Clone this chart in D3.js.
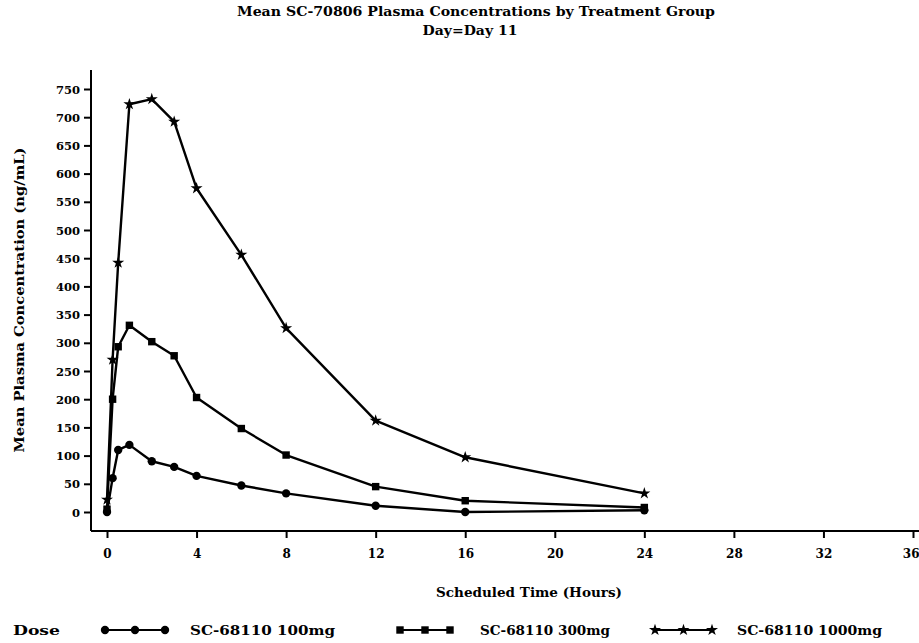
<!DOCTYPE html>
<html>
<head>
<meta charset="utf-8">
<script src="https://cdn.jsdelivr.net/npm/d3@7"></script>
<style>
  html, body { margin: 0; padding: 0; background: #fff; }
  svg { display: block; }
  text { font-family: "DejaVu Serif", "Liberation Serif", serif; font-weight: bold; fill: #000; }
</style>
</head>
<body>
<svg id="chart" width="919" height="643"></svg>
<script>
// Scheduled sampling times (hours)
const times = [0, 0.25, 0.5, 1, 2, 3, 4, 6, 8, 12, 16, 24];
// Mean plasma concentrations (ng/mL) per dose group
const dose100 = [0, 60, 110, 119, 90, 80, 64, 47, 33, 11, 0, 3];
const dose300 = [5, 200, 293, 331, 302, 277, 203, 148, 101, 45, 20, 8];
const dose1000 = [22, 270, 442, 723, 732, 692, 574, 456, 326, 162, 97, 33];
// Axis ticks and labels
const xTicks = [0, 4, 8, 12, 16, 20, 24, 28, 32, 36];
const yTicks = [0, 50, 100, 150, 200, 250, 300, 350, 400, 450, 500, 550, 600, 650, 700, 750];
const seriesNames = ["SC-68110 100mg", "SC-68110 300mg", "SC-68110 1000mg"];
const titleLines = ["Mean SC-70806 Plasma Concentrations by Treatment Group", "Day=Day 11"];

const svg = d3.select("#chart");

const x = d3.scaleLinear().domain([0, 36]).range([107, 913]);
const y = d3.scaleLinear().domain([0, 750]).range([512, 89]);

const axisLeftX = 91, axisBottomY = 531, axisTopY = 70, axisRightX = 919;

// Titles
svg.append("text").attr("x", 476).attr("y", 16).attr("text-anchor", "middle")
  .attr("font-size", 13).attr("textLength", 478).attr("lengthAdjust", "spacingAndGlyphs")
  .text(titleLines[0]);
svg.append("text").attr("x", 470).attr("y", 35).attr("text-anchor", "middle")
  .attr("font-size", 13).attr("textLength", 95).attr("lengthAdjust", "spacingAndGlyphs")
  .text(titleLines[1]);

// Axis lines
svg.append("line").attr("x1", axisLeftX).attr("x2", axisLeftX).attr("y1", axisTopY).attr("y2", axisBottomY)
  .attr("stroke", "#000").attr("stroke-width", 2);
svg.append("line").attr("x1", axisLeftX).attr("x2", axisRightX).attr("y1", axisBottomY).attr("y2", axisBottomY)
  .attr("stroke", "#000").attr("stroke-width", 2);

// Y axis
const yAxis = svg.append("g").attr("transform", `translate(${axisLeftX},0)`)
  .call(d3.axisLeft(y).tickValues(yTicks).tickSize(7).tickPadding(4));
yAxis.select(".domain").remove();
yAxis.selectAll(".tick line").attr("stroke", "#000").attr("stroke-width", 2);
yAxis.selectAll(".tick text").attr("font-size", 11.5).attr("font-family", "DejaVu Serif, serif")
  .attr("font-weight", "bold").attr("dy", "0.35em");

// X axis
const xAxis = svg.append("g").attr("transform", `translate(0,${axisBottomY})`)
  .call(d3.axisBottom(x).tickValues(xTicks).tickSize(7).tickPadding(11));
xAxis.select(".domain").remove();
xAxis.selectAll(".tick line").attr("stroke", "#000").attr("stroke-width", 2);
xAxis.selectAll(".tick text").attr("font-size", 12).attr("font-family", "DejaVu Serif, serif")
  .attr("font-weight", "bold");
// keep the last label inside the right edge
xAxis.selectAll(".tick text").filter(d => d === 36).attr("text-anchor", "end").attr("dx", 6);

// Axis titles
svg.append("text").attr("transform", "translate(24,300) rotate(-90)").attr("text-anchor", "middle")
  .attr("font-size", 12).attr("textLength", 305).attr("lengthAdjust", "spacingAndGlyphs")
  .text("Mean Plasma Concentration (ng/mL)");
svg.append("text").attr("x", 529).attr("y", 597).attr("text-anchor", "middle")
  .attr("font-size", 12).attr("textLength", 186).attr("lengthAdjust", "spacingAndGlyphs")
  .text("Scheduled Time (Hours)");

// Series
const series = [
  { name: seriesNames[0], values: dose100, symbol: d3.symbolCircle, size: 55 },
  { name: seriesNames[1], values: dose300, symbol: d3.symbolSquare, size: 55 },
  { name: seriesNames[2], values: dose1000, symbol: d3.symbolStar, size: 45 }
];

const line = d3.line().x(d => x(d[0])).y(d => y(d[1]));

series.forEach(s => {
  const pts = times.map((t, i) => [t, s.values[i]]);
  svg.append("path").datum(pts).attr("d", line)
    .attr("fill", "none").attr("stroke", "#000").attr("stroke-width", 2.4).attr("stroke-linejoin", "round");
  svg.append("g").selectAll("path").data(pts).join("path")
    .attr("transform", d => `translate(${x(d[0])},${y(d[1])})`)
    .attr("d", d3.symbol().type(s.symbol).size(s.size))
    .attr("fill", "#000");
});

// Legend
const legendY = 630;
svg.append("text").attr("x", 13).attr("y", legendY + 5).attr("font-size", 12)
  .attr("textLength", 47).attr("lengthAdjust", "spacingAndGlyphs").text("Dose");
const legendItems = [
  { sym: [105, 165], label: 190, len: 145 },
  { sym: [400, 450], label: 480, len: 130 },
  { sym: [655, 712], label: 737, len: 145 }
];
series.forEach((s, i) => {
  const it = legendItems[i];
  svg.append("line").attr("x1", it.sym[0]).attr("x2", it.sym[1]).attr("y1", legendY).attr("y2", legendY)
    .attr("stroke", "#000").attr("stroke-width", 2);
  [it.sym[0], (it.sym[0] + it.sym[1]) / 2, it.sym[1]].forEach(px => {
    svg.append("path").attr("transform", `translate(${px},${legendY})`)
      .attr("d", d3.symbol().type(s.symbol).size(s.size)).attr("fill", "#000");
  });
  svg.append("text").attr("x", it.label).attr("y", legendY + 5).attr("font-size", 12)
    .attr("textLength", it.len).attr("lengthAdjust", "spacingAndGlyphs").text(s.name);
});
</script>
</body>
</html>
